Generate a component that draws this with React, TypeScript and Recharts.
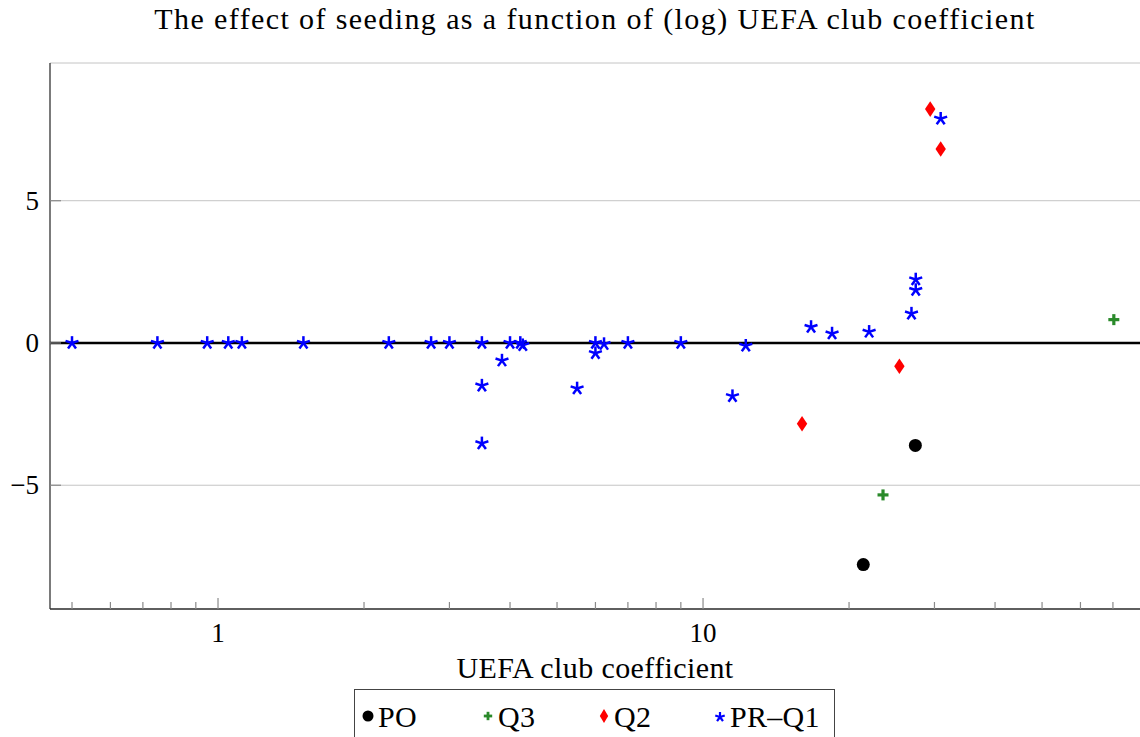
import React from 'react';
import {
  ScatterChart,
  Scatter,
  XAxis,
  YAxis,
  CartesianGrid,
  ReferenceLine,
} from 'recharts';

// values (x: UEFA club coefficient, y: effect of seeding)
const poX = [21.4, 27.4];
const poY = [-7.79, -3.6];

const q3X = [23.5, 70.3];
const q3Y = [-5.34, 0.82];

const q2X = [16.0, 25.4, 29.4, 30.9];
const q2Y = [-2.84, -0.82, 8.22, 6.82];

const prX = [
  0.5, 0.75, 0.95, 1.05, 1.12, 1.5, 2.25, 2.75, 3.0, 3.5, 3.5, 3.5, 3.85, 4.0, 4.2, 4.25,
  5.5, 6.0, 6.0, 6.25, 7.0, 9.0, 11.5, 12.25, 16.7, 18.45, 22.0, 26.9, 27.45, 27.45, 30.9,
];
const prY = [
  0, 0, 0, 0, 0, 0, 0, 0, 0, 0, -1.5, -3.53, -0.62, 0, 0, -0.08,
  -1.6, 0, -0.36, -0.04, 0, 0, -1.87, -0.1, 0.56, 0.33, 0.39, 1.03, 2.23, 1.86, 7.88,
];

const xTicks = [
  0.5, 0.6, 0.7, 0.8, 0.9, 1, 2, 3, 4, 5, 6, 7, 8, 9, 10, 20, 30, 40, 50, 60, 70,
];
const xTickLabels = [1, 10];
const yTicks = [-5, 0, 5];

const X_DOMAIN = [0.4504, 79.6];
const Y_DOMAIN = [-9.35, 9.84];

const FONT = '"Liberation Serif", serif';
const TICK_COLOR = '#8a8a8a';

const zip = (xs: number[], ys: number[]) => xs.map((x, i) => ({ x, y: ys[i] }));

const poData = zip(poX, poY);
const q3Data = zip(q3X, q3Y);
const q2Data = zip(q2X, q2Y);
const prData = zip(prX, prY);

// marker shapes (pgfplots style)
const Dot = ({ cx, cy, r = 6.5 }: any) => <circle cx={cx} cy={cy} r={r} fill="#000" />;

const Plus = ({ cx, cy, s = 5.5, sw = 3.2 }: any) => (
  <g stroke="#2a8a2a" strokeWidth={sw}>
    <line x1={cx - s} y1={cy} x2={cx + s} y2={cy} />
    <line x1={cx} y1={cy - s} x2={cx} y2={cy + s} />
  </g>
);

const Diamond = ({ cx, cy, w = 5.2, h = 7.8 }: any) => (
  <polygon
    points={`${cx},${cy - h} ${cx + w},${cy} ${cx},${cy + h} ${cx - w},${cy}`}
    fill="#ff0000"
  />
);

const Star = ({ cx, cy, r = 6.8, sw = 2.5 }: any) => (
  <g stroke="#0000ff" strokeWidth={sw} strokeLinecap="butt">
    {[0, 1, 2, 3, 4].map((k) => {
      const a = ((-90 + k * 72) * Math.PI) / 180;
      return (
        <line key={k} x1={cx} y1={cy} x2={cx + r * Math.cos(a)} y2={cy + r * Math.sin(a)} />
      );
    })}
  </g>
);

const BottomTick = ({ x, y, payload }: any) => {
  const major = xTickLabels.includes(payload.value);
  return (
    <g>
      <line x1={x} y1={y} x2={x} y2={y - (major ? 11 : 7)} stroke={TICK_COLOR} strokeWidth={1.2} />
      {major && (
        <text x={x} y={y + 33} textAnchor="middle" fontFamily={FONT} fontSize={27} fill="#000">
          {payload.value}
        </text>
      )}
    </g>
  );
};

const TopTick = ({ x, y, payload }: any) => {
  const major = xTickLabels.includes(payload.value);
  return <line x1={x} y1={y} x2={x} y2={y + (major ? 11 : 7)} stroke={TICK_COLOR} strokeWidth={1.2} />;
};

const LeftTick = ({ x, y, payload }: any) => (
  <g>
    <line x1={x} y1={y} x2={x + 11} y2={y} stroke={TICK_COLOR} strokeWidth={1.2} />
    <text x={x - 11} y={y + 9} textAnchor="end" fontFamily={FONT} fontSize={27} fill="#000">
      {payload.value < 0 ? `\u2212${Math.abs(payload.value)}` : payload.value}
    </text>
  </g>
);

const legendItems = [
  { name: 'PO', left: 354, Mark: () => <Dot cx={14} cy={14} r={5.5} /> },
  { name: 'Q3', left: 474, Mark: () => <Plus cx={14} cy={14} s={4.2} sw={2.8} /> },
  { name: 'Q2', left: 590, Mark: () => <Diamond cx={14} cy={14} w={4.2} h={7} /> },
  { name: 'PR\u2013Q1', left: 706, Mark: () => <Star cx={14} cy={15} r={5} sw={2.2} /> },
];

export default function App() {
  return (
    <div style={{ position: 'absolute', left: 0, top: 0, width: 1140, height: 737, background: '#fff', overflow: 'hidden' }}>
      <div
        style={{
          position: 'absolute',
          left: 50,
          width: 1090,
          top: 2,
          textAlign: 'center',
          fontFamily: FONT,
          fontSize: 30,
          letterSpacing: 1.4,
          color: '#000',
        }}
      >
        The effect of seeding as a function of (log) UEFA club coefficient
      </div>

      <ScatterChart width={1140} height={737} margin={{ top: 63, right: 0, bottom: 0, left: 0 }}>
        <CartesianGrid vertical={false} stroke="#c4c4c4" strokeWidth={1} />
        <XAxis
          xAxisId="b"
          dataKey="x"
          type="number"
          scale="log"
          domain={X_DOMAIN}
          allowDataOverflow
          ticks={xTicks}
          interval={0}
          height={128}
          tickSize={0}
          tickMargin={0}
          tickLine={false}
          tick={<BottomTick />}
          axisLine={{ stroke: '#333', strokeWidth: 1.3 }}
        />
        <XAxis
          xAxisId="t"
          orientation="top"
          dataKey="x"
          type="number"
          scale="log"
          domain={X_DOMAIN}
          allowDataOverflow
          ticks={xTicks}
          interval={0}
          height={0}
          tickSize={0}
          tickMargin={0}
          tickLine={false}
          tick={<TopTick />}
          axisLine={{ stroke: '#333', strokeWidth: 1.3 }}
        />
        <YAxis
          dataKey="y"
          type="number"
          domain={Y_DOMAIN}
          allowDataOverflow
          ticks={yTicks}
          interval={0}
          width={50}
          tickSize={0}
          tickMargin={0}
          tickLine={false}
          tick={<LeftTick />}
          axisLine={{ stroke: '#333', strokeWidth: 1.3 }}
        />
        <ReferenceLine xAxisId="b" y={0} stroke="#000" strokeWidth={2.4} />
        <Scatter xAxisId="t" data={[]} isAnimationActive={false} />
        <Scatter xAxisId="b" name="PR–Q1" data={prData} shape={<Star />} isAnimationActive={false} />
        <Scatter xAxisId="b" name="Q2" data={q2Data} shape={<Diamond />} isAnimationActive={false} />
        <Scatter xAxisId="b" name="Q3" data={q3Data} shape={<Plus />} isAnimationActive={false} />
        <Scatter xAxisId="b" name="PO" data={poData} shape={<Dot />} isAnimationActive={false} />
      </ScatterChart>

      <div
        style={{
          position: 'absolute',
          left: 50,
          width: 1090,
          top: 651,
          textAlign: 'center',
          fontFamily: FONT,
          fontSize: 30,
          letterSpacing: 0.4,
          color: '#000',
        }}
      >
        UEFA club coefficient
      </div>

      <div
        style={{
          position: 'absolute',
          left: 354,
          top: 689,
          width: 479,
          height: 60,
          border: '1.3px solid #444',
        }}
      />
      {legendItems.map(({ name, left, Mark }) => (
        <div
          key={name}
          style={{
            position: 'absolute',
            left: left + 2,
            top: 700,
            display: 'flex',
            alignItems: 'center',
            fontFamily: FONT,
            fontSize: 30,
            letterSpacing: 0.3,
            color: '#000',
          }}
        >
          <svg width={24} height={30} style={{ marginLeft: -2 }}>
            <Mark />
          </svg>
          <span>{name}</span>
        </div>
      ))}
    </div>
  );
}
